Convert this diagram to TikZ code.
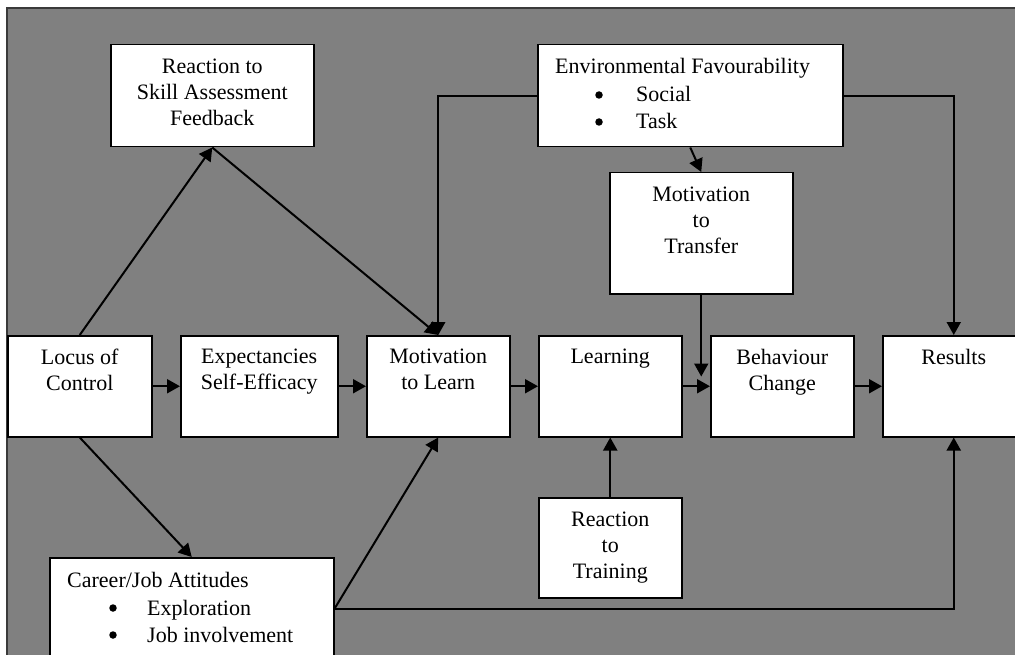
\documentclass[tikz,border=0pt]{standalone}
\usepackage{fontspec}
\setmainfont{Liberation Serif}
\usetikzlibrary{arrows.meta,calc}
\definecolor{bg}{HTML}{808080}
\definecolor{frame}{HTML}{3A3A3A}
\begin{document}
\begin{tikzpicture}[x=1pt,y=-1pt,
  box/.style={draw=black,line width=1.5pt,fill=white,inner sep=0pt,anchor=north west},
  txt/.style={font=\fontsize{22}{26}\selectfont,align=center,inner sep=0pt,anchor=north},
  ltxt/.style={font=\fontsize{22}{26}\selectfont,inner sep=0pt,anchor=base west},
  bul/.style={circle,fill=black,inner sep=0pt,minimum size=7.5pt},
  arr/.style={line width=2pt,-{Triangle[length=13pt,width=14pt]}}
]
\useasboundingbox (0,0) rectangle (1015,655);
\clip (0,0) rectangle (1015,655);
\fill[white] (0,0) rectangle (1015,655);
\draw[line width=2.5pt,draw=frame,fill=bg] (7,8) rectangle (1040,680);

% boxes
\node[box,minimum width=203pt,minimum height=102pt] (rsaf) at (110,44) {};
\node[box,minimum width=305pt,minimum height=102pt] (env) at (537,44) {};
\node[box,minimum width=183pt,minimum height=121pt] (mtt) at (609,172) {};
\node[box,minimum width=144pt,minimum height=101pt] (loc) at (7,335) {};
\node[box,minimum width=157pt,minimum height=101pt] (exp) at (180,335) {};
\node[box,minimum width=143pt,minimum height=101pt] (mtl) at (366,335) {};
\node[box,minimum width=143pt,minimum height=101pt] (lrn) at (538,335) {};
\node[box,minimum width=143pt,minimum height=101pt] (beh) at (710,335) {};
\node[box,minimum width=142pt,minimum height=101pt] (res) at (882,335) {};
\node[box,minimum width=143pt,minimum height=100pt] (rtt) at (538,497) {};
\node[box,minimum width=284pt,minimum height=102pt] (car) at (49,557) {};

% texts
\node[txt] (rsaft) at ($(rsaf.north)+(0,15)$) {Reaction to\\Skill Assessment\\Feedback};
\node[ltxt] (env1) at (555,74) {Environmental Favourability};
\node[bul] (envb1) at (599,95) {};
\node[ltxt] (env2) at (636,102) {Social};
\node[bul] (envb2) at (599,122) {};
\node[ltxt] (env3) at (636,129) {Task};
\node[txt] (mttt) at ($(mtt.north)+(0,15)$) {Motivation\\to\\Transfer};
\node[txt] (loct) at ($(loc.north)+(0,14)$) {Locus of\\Control};
\node[txt] (expt) at ($(exp.north)+(0,14)$) {Expectancies\\Self-Efficacy};
\node[txt] (mtlt) at ($(mtl.north)+(0,14)$) {Motivation\\to Learn};
\node[txt] (lrnt) at ($(lrn.north)+(0,14)$) {Learning};
\node[txt] (beht) at ($(beh.north)+(0,14)$) {Behaviour\\Change};
\node[txt] (rest) at ($(res.north)+(0,14)$) {Results};
\node[txt] (rttt) at ($(rtt.north)+(0,15)$) {Reaction\\to\\Training};
\node[ltxt] (car1) at (67,587) {Career/Job Attitudes};
\node[bul] (carb1) at (113,608) {};
\node[ltxt] (car2) at (147,615) {Exploration};
\node[bul] (carb2) at (113,635) {};
\node[ltxt] (car3) at (147,642) {Job involvement};

% connectors
\coordinate (mttend) at ($(mtt.south)+(0,82)$);
\draw[arr] (loc.north) -- (rsaf.south);
\draw[arr] (rsaf.south) -- (mtl.north);
\draw[arr] (env.west) -| (mtl.north);
\draw[arr] (env.east) -| (res.north);
\draw[arr] (env.south) -- (mtt.north);
\draw[arr] (mtt.south) -- (mttend);
\draw[arr] (loc.east) -- (exp.west);
\draw[arr] (exp.east) -- (mtl.west);
\draw[arr] (mtl.east) -- (lrn.west);
\draw[arr] (lrn.east) -- (beh.west);
\draw[arr] (beh.east) -- (res.west);
\draw[arr] (rtt.north) -- (lrn.south);
\draw[arr] (loc.south) -- (car.north);
\draw[arr] (car.east) -- (mtl.south);
\draw[arr] (car.east) -| (res.south);
\end{tikzpicture}
\end{document}
